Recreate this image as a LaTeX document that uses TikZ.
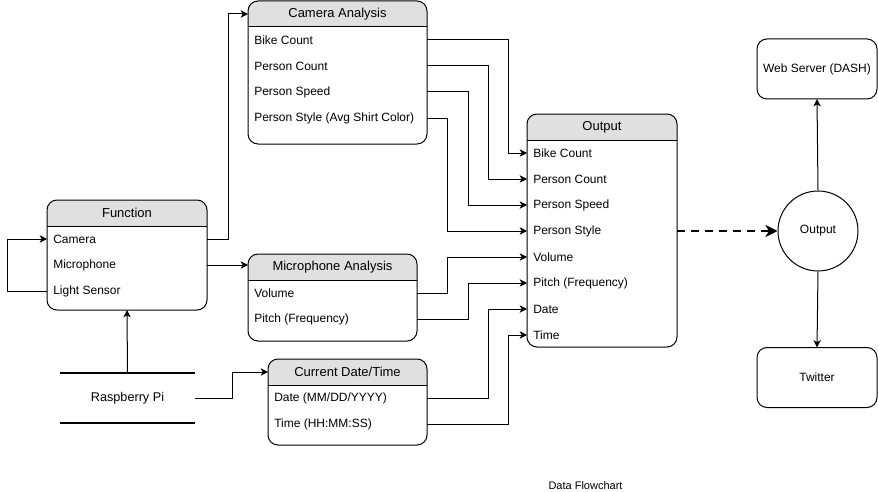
\documentclass[tikz,border=0pt]{standalone}
\usepackage{fontspec}
\setmainfont{Liberation Sans}
\usepackage{xcolor}
\definecolor{flowdark}{HTML}{000000}
\definecolor{headgray}{HTML}{E0E0E0}
\usepackage{tikz}
\usetikzlibrary{arrows.meta, positioning, calc}

\tikzset{
  boxline/.style={flowdark, line width=0.75pt},
  tablebox/.style={boxline, draw, rectangle, rounded corners=7.5pt,
                   inner sep=0pt, outer sep=0pt},
  headtext/.style={font=\fontsize{9.75}{11}\selectfont, text=flowdark},
  rowtext/.style={font=\fontsize{9}{11}\selectfont, text=flowdark, inner sep=0pt},
  conn/.style={boxline, -{Stealth[length=5.5pt, width=5.5pt, inset=1.5pt]}},
  plainbox/.style={tablebox, font=\fontsize{9}{10}\selectfont},
}

\newcommand{\tablebox}[7]{% name, x, y, width, height, title, rows
  \begin{scope}
    \clip[rounded corners=7.5pt] (#2,#3) rectangle (#2+#4,#3+#5);
    \fill[headgray] (#2,#3) rectangle (#2+#4,#3+26);
  \end{scope}
  \node[tablebox, minimum width=#4*0.75pt, minimum height=#5*0.75pt,
        anchor=north west] (#1) at (#2,#3) {};
  \draw[boxline] (#2,#3+26) -- (#2+#4,#3+26);
  \node[headtext] (#1-head) at (#2+#4/2,#3+13) {#6};
  \foreach \r [count=\i] in {#7} {
    \node[rowtext, anchor=west] (#1-\i) at (#2+6,#3+13+26*\i) {\r};
  }
}

\begin{document}
\begin{tikzpicture}[x=0.75pt, y=-0.75pt]
  \useasboundingbox (0,0) rectangle (878,492);

  % tables
  \tablebox{fun}{47}{200}{160}{110}{Function}{Camera, Microphone, Light Sensor}
  \tablebox{cam}{248}{1}{179}{143}{Camera Analysis}
    {Bike Count, Person Count, Person Speed, {Person Style (Avg Shirt Color)}}
  \tablebox{mic}{248}{254}{169}{87}{Microphone Analysis}
    {Volume, {Pitch (Frequency)}}
  \tablebox{date}{268}{359}{159}{86}{Current Date/Time}
    {{Date (MM/DD/YYYY)}, {Time (HH:MM:SS)}}
  \tablebox{out}{527}{114}{150}{233}{Output}
    {Bike Count, Person Count, Person Speed, Person Style, Volume,
     {Pitch (Frequency)}, Date, Time}

  % raspberry pi (two bars only)
  \node[rowtext, font=\fontsize{9.5}{11}\selectfont, minimum width=101.25pt,
        minimum height=37.5pt] (rpi) at (127.5,398) {Raspberry Pi};
  \draw[flowdark, line width=1.5pt] (rpi.north west) -- (rpi.north east);
  \draw[flowdark, line width=1.5pt] (rpi.south west) -- (rpi.south east);

  % right side
  \node[boxline, draw, circle, minimum size=60pt, inner sep=0pt,
        font=\fontsize{9}{10}\selectfont] (circ) at (818,231) {Output};
  \node[plainbox, minimum width=90pt, minimum height=45pt] (web) at (817,69) {Web Server (DASH)};
  \node[plainbox, minimum width=90pt, minimum height=45pt] (tw) at (817,377.5) {Twitter};

  % function links
  \draw[conn] (fun-1 -| fun.east) -- ++(21,0) |- (cam-head -| cam.west);
  \draw[conn] (fun-2 -| fun.east) -- (fun-2 -| mic.west);
  \draw[conn] (fun-3 -| fun.west) -- ++(-40,0) |- (fun-1 -| fun.west);
  \draw[conn] (rpi.north) -- (fun.south);
  \draw[conn] (rpi.east) -- ++(37,0) |- (date-head -| date.west);

  % into output
  \draw[conn] (cam-1 -| cam.east) -- ++(81,0) |- (out-1 -| out.west);
  \draw[conn] (cam-2 -| cam.east) -- ++(61,0) |- (out-2 -| out.west);
  \draw[conn] (cam-3 -| cam.east) -- ++(41,0) |- (out-3 -| out.west);
  \draw[conn] (cam-4 -| cam.east) -- ++(20,0) |- (out-4 -| out.west);
  \draw[conn] (mic-1 -| mic.east) -- ++(30,0) |- (out-5 -| out.west);
  \draw[conn] (mic-2 -| mic.east) -- ++(51,0) |- (out-6 -| out.west);
  \draw[conn] (date-1 -| date.east) -- ++(61,0) |- (out-7 -| out.west);
  \draw[conn] (date-2 -| date.east) -- ++(81,0) |- (out-8 -| out.west);

  \draw[flowdark, line width=2pt, dash pattern=on 6pt off 4.5pt,
        -{Stealth[length=9pt, width=9pt, inset=2.5pt]}] (out-4 -| out.east) -- (circ.west);
  \draw[conn] (circ.north) -- (web.south);
  \draw[conn] (circ.south) -- (tw.north);

  \node[font=\fontsize{8.25}{10}\selectfont, text=flowdark] (cap) at (585.5,486) {Data Flowchart};
\end{tikzpicture}
\end{document}
